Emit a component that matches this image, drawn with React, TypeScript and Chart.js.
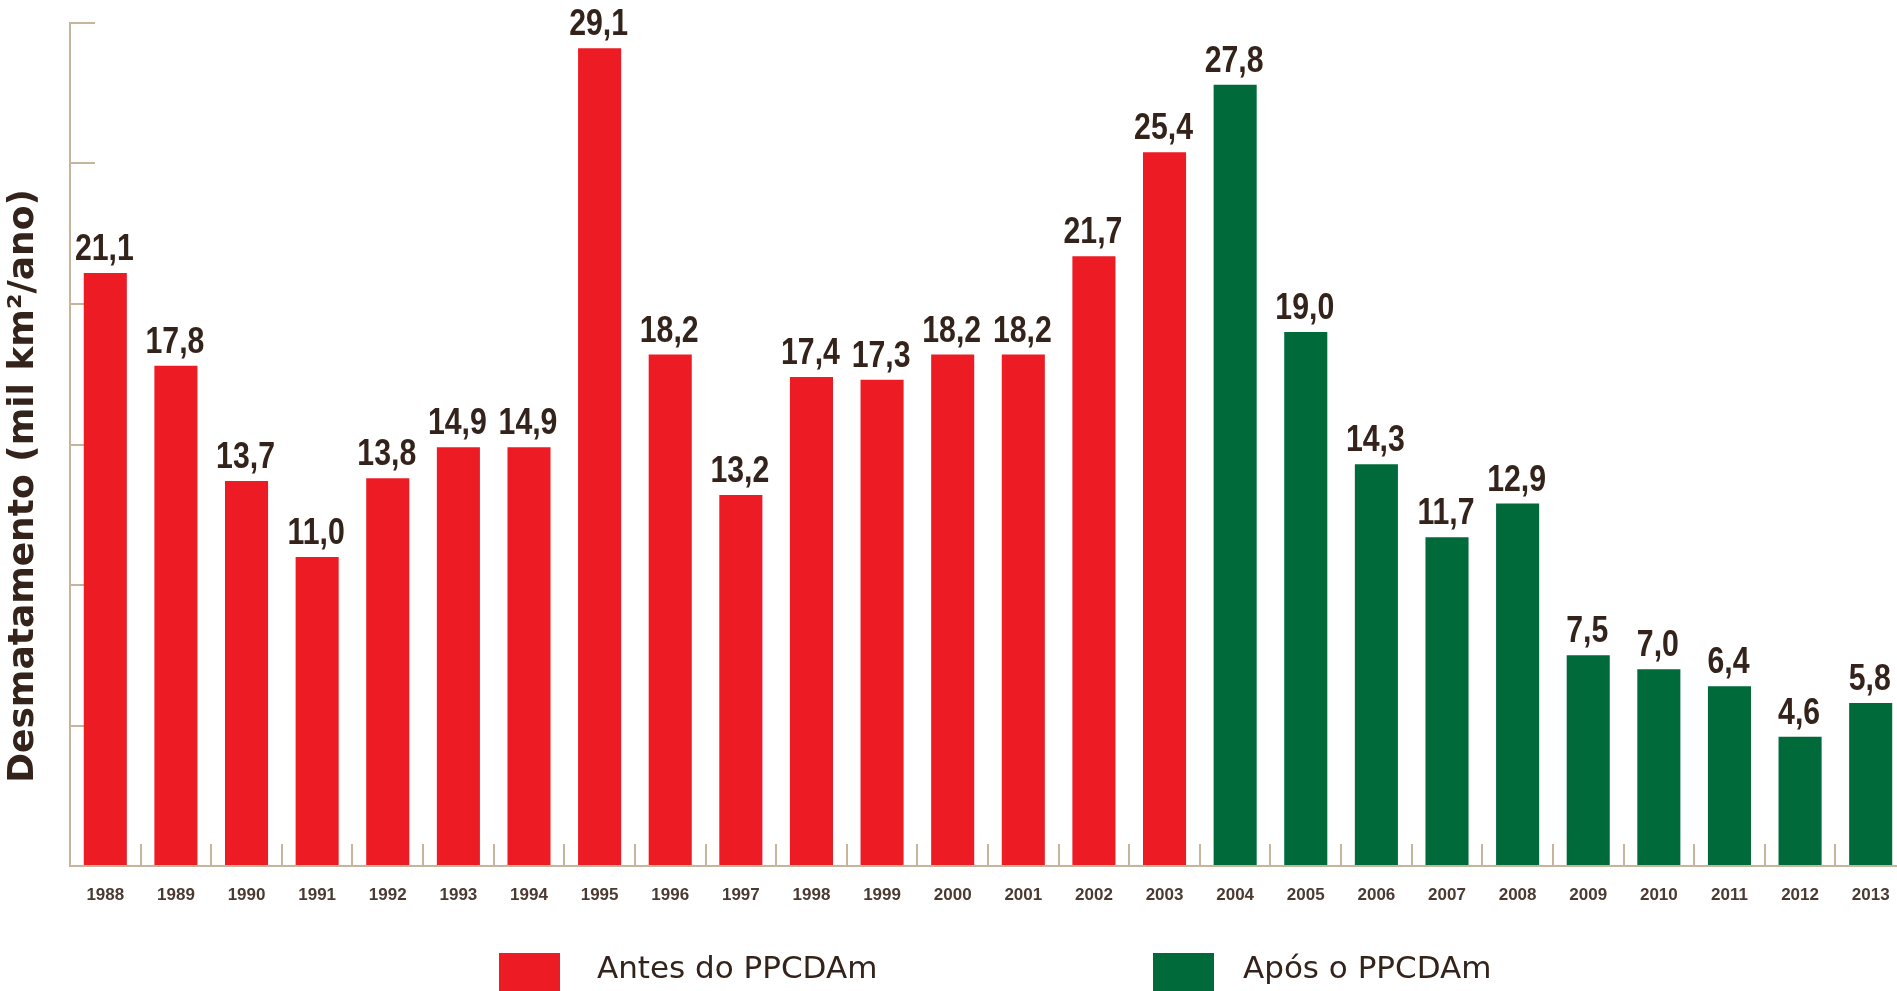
import React, { useEffect, useRef } from 'react';
import { Chart, registerables } from 'chart.js';

Chart.register(...registerables);

// ---- data ----
const years = [
  '1988', '1989', '1990', '1991', '1992', '1993', '1994', '1995', '1996', '1997', '1998', '1999', '2000',
  '2001', '2002', '2003', '2004', '2005', '2006', '2007', '2008', '2009', '2010', '2011', '2012', '2013',
];
const antesValues = [
  21.1, 17.8, 13.7, 11.0, 13.8, 14.9, 14.9, 29.1, 18.2, 13.2, 17.4, 17.3, 18.2, 18.2, 21.7, 25.4,
  null, null, null, null, null, null, null, null, null, null,
];
const aposValues = [
  null, null, null, null, null, null, null, null, null, null, null, null, null, null, null, null,
  27.8, 19.0, 14.3, 11.7, 12.9, 7.5, 7.0, 6.4, 4.6, 5.8,
];
const seriesLabels = ['Antes do PPCDAm', 'Após o PPCDAm'];
const yTitle = 'Desmatamento (mil km²/ano)';
const yMin = 0;
const yMax = 30;
const yStep = 5;

// ---- styles ----
const RED = '#ed1c24';
const GREEN = '#006a3b';
const AXIS = '#c4b59c';
const TEXT = '#33231a';
const SANS = '"Liberation Sans", Arial, sans-serif';
const WIDE = '"DejaVu Sans", "Liberation Sans", sans-serif';
const CANVAS_W = 1906;
const CANVAS_H = 991;
const AREA_TOP = 23;
const AREA_BOTTOM = 866;
const AREA_LEFT = 70;

const valueLabelsPlugin = {
  id: 'valueLabels',
  afterDatasetsDraw(chart: any) {
    const ctx = chart.ctx;
    chart.data.datasets.forEach((ds: any, i: number) => {
      const meta = chart.getDatasetMeta(i);
      meta.data.forEach((el: any, j: number) => {
        const v = ds.data[j];
        if (v == null) return;
        ctx.save();
        ctx.translate(el.x - 1, el.y - 13);
        ctx.scale(0.84, 1);
        ctx.font = `bold 36px ${SANS}`;
        ctx.fillStyle = TEXT;
        ctx.textAlign = 'center';
        ctx.textBaseline = 'alphabetic';
        ctx.fillText(Number(v).toFixed(1).replace('.', ','), 0, 0);
        ctx.restore();
      });
    });
  },
};

const titleLegendPlugin = {
  id: 'titleLegend',
  afterDraw(chart: any) {
    const ctx = chart.ctx;
    ctx.save();
    // y axis title
    ctx.translate(24, 486);
    ctx.rotate(-Math.PI / 2);
    ctx.font = `bold 36px ${WIDE}`;
    ctx.fillStyle = TEXT;
    ctx.textAlign = 'center';
    ctx.textBaseline = 'middle';
    ctx.fillText(yTitle, 0, 0);
    ctx.restore();

    // legend
    const items = [
      { box: 499, text: 597 },
      { box: 1153, text: 1243 },
    ];
    ctx.save();
    ctx.font = `31px ${WIDE}`;
    ctx.textAlign = 'left';
    ctx.textBaseline = 'middle';
    chart.data.datasets.forEach((ds: any, i: number) => {
      const it = items[i];
      ctx.fillStyle = ds.backgroundColor;
      ctx.fillRect(it.box, 953, 61, 61);
      ctx.fillStyle = TEXT;
      ctx.fillText(ds.label, it.text, 970);
    });
    ctx.restore();
  },
};

export default function App() {
  const ref = useRef<HTMLCanvasElement | null>(null);

  useEffect(() => {
    if (!ref.current) return;
    const chart = new Chart(ref.current, {
      type: 'bar',
      data: {
        labels: years,
        datasets: [
          { label: seriesLabels[0], data: antesValues as any, backgroundColor: RED, borderWidth: 0 },
          { label: seriesLabels[1], data: aposValues as any, backgroundColor: GREEN, borderWidth: 0 },
        ],
      },
      options: {
        responsive: false,
        animation: false,
        devicePixelRatio: 1,
        layout: { padding: { top: AREA_TOP, left: 0, right: 0, bottom: 0 } },
        datasets: { bar: { barPercentage: 0.61, categoryPercentage: 1 } },
        plugins: { legend: { display: false }, tooltip: { enabled: false } },
        scales: {
          x: {
            stacked: true,
            offset: true,
            border: { display: true, color: AXIS, width: 2 },
            grid: {
              offset: true,
              drawOnChartArea: false,
              drawTicks: true,
              tickLength: -22,
              color: AXIS,
              lineWidth: 2,
            },
            ticks: {
              font: { family: SANS, size: 17, weight: 'bold' },
              color: '#4a3a32',
              padding: 41,
              maxRotation: 0,
              autoSkip: false,
            },
            afterFit: (s: any) => {
              s.height = CANVAS_H - AREA_BOTTOM;
              s.paddingLeft = 0;
              s.paddingRight = 0;
            },
          },
          y: {
            stacked: true,
            min: yMin,
            max: yMax,
            border: { display: true, color: AXIS, width: 2 },
            grid: {
              drawOnChartArea: false,
              drawTicks: true,
              tickLength: -25,
              color: AXIS,
              lineWidth: 2,
            },
            ticks: { display: false, stepSize: yStep },
            afterFit: (s: any) => {
              s.width = AREA_LEFT;
              s.paddingTop = 0;
              s.paddingBottom = 0;
            },
          },
        },
      },
      plugins: [valueLabelsPlugin, titleLegendPlugin],
    });
    return () => chart.destroy();
  }, []);

  return (
    <div
      style={{
        position: 'absolute',
        left: 0,
        top: 0,
        width: 1897,
        height: 991,
        overflow: 'hidden',
        background: '#ffffff',
      }}
    >
      <canvas ref={ref} width={CANVAS_W} height={CANVAS_H} style={{ display: 'block' }} />
    </div>
  );
}
